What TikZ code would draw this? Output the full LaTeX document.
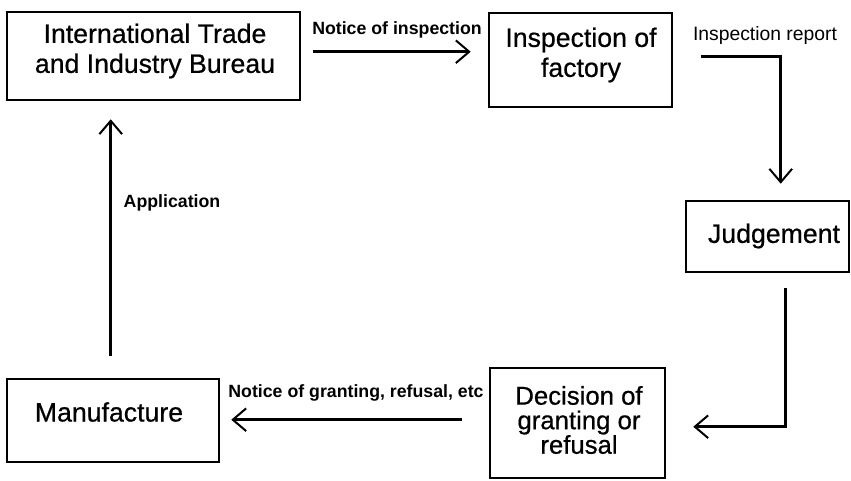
\documentclass[tikz,border=0pt]{standalone}
\usepackage{fontspec}
\setmainfont{Liberation Sans}
\newfontfamily\boxfont[FakeBold=0.6]{Liberation Sans}
\usetikzlibrary{arrows.meta,calc}
\begin{document}
\begin{tikzpicture}[x=0.75pt,y=-0.75pt,
  box/.style={draw,line width=1.9pt,inner sep=0pt},
  boxtext/.style={font=\boxfont\fontsize{20}{22.5}\selectfont,align=center,inner sep=0pt},
  lab/.style={font=\fontsize{13.3}{16}\selectfont\bfseries,inner sep=0pt},
  arr/.style={line width=2.2pt,-{Straight Barb[length=10pt,width=17pt,line width=1.5pt]}}]
\useasboundingbox (0,0) rectangle (851,481);
% boxes
\node[box,minimum width=293*0.75pt,minimum height=88*0.75pt] (b1) at (153.5,56) {};
\node[box,minimum width=183*0.75pt,minimum height=94*0.75pt] (b2) at (580.5,60) {};
\node[box,minimum width=163*0.75pt,minimum height=71*0.75pt] (j) at (767.5,236.5) {};
\node[box,minimum width=175*0.75pt,minimum height=110*0.75pt] (d) at (577.5,423) {};
\node[box,minimum width=212*0.75pt,minimum height=83*0.75pt] (m) at (113,420.5) {};
% box texts
\node[boxtext] (t1) at (155,51) {International Trade\\and Industry Bureau};
\node[boxtext] (t2) at (581,55) {Inspection of\\factory};
\node[boxtext] (t3) at (774,236) {Judgement};
\node[boxtext,font=\boxfont\fontsize{19.3}{18.4}\selectfont] (t4) at (579,420) {Decision of\\granting or\\refusal};
\node[boxtext] (t5) at (109,412) {Manufacture};
% connectors
\draw[arr] ($(b1.north east)+(12,41)$) -- ($(b2.north west)+(-17,40)$);
\draw[arr] ($(b2.north east)+(28,45)$) -| ($(j.north west)+(96,-16)$);
\draw[arr] ($(j.south west)+(101,15)$) |- ($(d.north east)+(27,60)$);
\draw[arr] ($(d.north west)+(-27,53)$) -- ($(m.north east)+(11,42)$);
\draw[arr] ($(m.north west)+(105,-22)$) -- ($(b1.south west)+(105,18)$);
% labels
\node[lab] (l1) at (397,30) {Notice of inspection};
\node[lab,font=\fontsize{14.5}{16}\selectfont] (l2) at (765,35.5) {Inspection report};
\node[lab] (l3) at (356,393) {Notice of granting, refusal, etc};
\node[lab] (l4) at (172,203) {Application};
\end{tikzpicture}
\end{document}
